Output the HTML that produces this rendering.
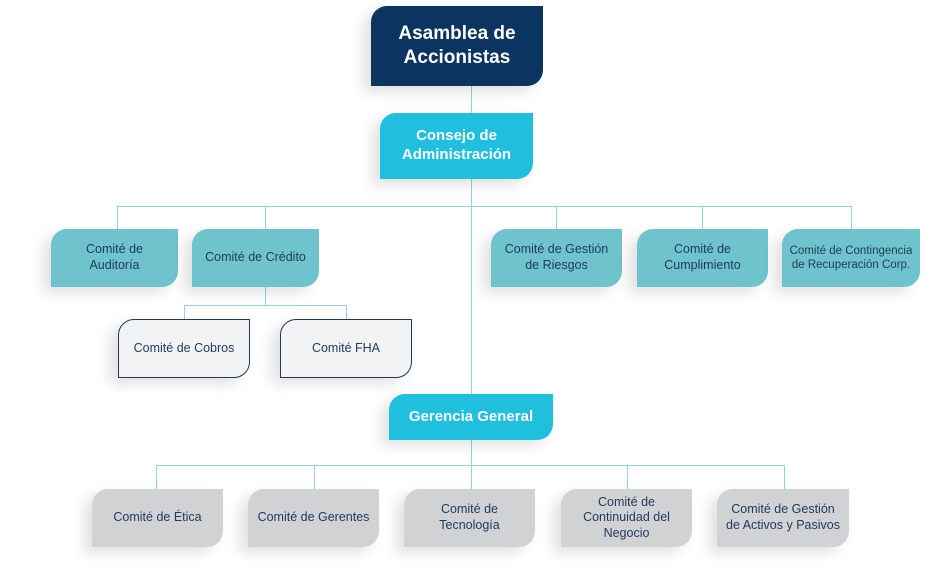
<!DOCTYPE html><html><head><meta charset="utf-8"><style>
body{margin:0;width:931px;height:567px;background:#fff;position:relative;overflow:hidden;font-family:"Liberation Sans",sans-serif}
.b{position:absolute;display:flex;align-items:center;justify-content:center;text-align:center;border-radius:16px 0 16px 0;box-sizing:border-box;font-size:12.5px;color:#1d3a5c;line-height:1.25;box-shadow:-8px 6px 14px rgba(0,0,0,.12)}
.t{background:#6fc3cc}.g{background:#d1d2d4}.w{background:#f2f3f4;border:1.5px solid #1d3a5c}
.l{position:absolute;background:#8ed4e4}
</style></head><body>
<div class="l" style="left:471px;top:86px;width:1px;height:403px"></div>
<div class="l" style="left:117px;top:206px;width:735px;height:1px"></div>
<div class="l" style="left:117px;top:206px;width:1px;height:23px"></div>
<div class="l" style="left:265px;top:206px;width:1px;height:99px"></div>
<div class="l" style="left:556px;top:206px;width:1px;height:23px"></div>
<div class="l" style="left:702px;top:206px;width:1px;height:23px"></div>
<div class="l" style="left:851px;top:206px;width:1px;height:23px"></div>
<div class="l" style="left:184px;top:305px;width:162px;height:1px"></div>
<div class="l" style="left:184px;top:305px;width:1px;height:14px"></div>
<div class="l" style="left:346px;top:305px;width:1px;height:14px"></div>
<div class="l" style="left:156px;top:465px;width:628px;height:1px"></div>
<div class="l" style="left:156px;top:465px;width:1px;height:24px"></div>
<div class="l" style="left:314px;top:465px;width:1px;height:24px"></div>
<div class="l" style="left:627px;top:465px;width:1px;height:24px"></div>
<div class="l" style="left:784px;top:465px;width:1px;height:24px"></div>

<div class="b" style="left:371px;top:6px;width:172px;height:80px;background:#0b3461;color:#fff;font-weight:bold;font-size:19px">Asamblea de<br>Accionistas</div>
<div class="b" style="left:380px;top:113px;width:153px;height:66px;background:#1fbfdd;color:#fff;font-weight:bold;font-size:15px">Consejo de<br>Administración</div>
<div class="b t" style="left:51px;top:229px;width:127px;height:58px">Comité de<br>Auditoría</div>
<div class="b t" style="left:192px;top:229px;width:127px;height:58px">Comité de Crédito</div>
<div class="b t" style="left:491px;top:229px;width:131px;height:58px">Comité de Gestión<br>de Riesgos</div>
<div class="b t" style="left:637px;top:229px;width:131px;height:58px">Comité de<br>Cumplimiento</div>
<div class="b t" style="left:782px;top:229px;width:138px;height:58px;font-size:11.5px">Comité de Contingencia<br>de Recuperación Corp.</div>
<div class="b w" style="left:118px;top:319px;width:132px;height:59px">Comité de Cobros</div>
<div class="b w" style="left:280px;top:319px;width:132px;height:59px">Comité FHA</div>
<div class="b" style="left:389px;top:394px;width:164px;height:46px;background:#1fbfdd;color:#fff;font-weight:bold;font-size:15px">Gerencia General</div>
<div class="b g" style="left:92px;top:489px;width:131px;height:58px">Comité de Ética</div>
<div class="b g" style="left:248px;top:489px;width:131px;height:58px">Comité de Gerentes</div>
<div class="b g" style="left:404px;top:489px;width:131px;height:58px">Comité de<br>Tecnología</div>
<div class="b g" style="left:561px;top:489px;width:131px;height:58px">Comité de<br>Continuidad del<br>Negocio</div>
<div class="b g" style="left:717px;top:489px;width:132px;height:58px">Comité de Gestión<br>de Activos y Pasivos</div>
</body></html>
